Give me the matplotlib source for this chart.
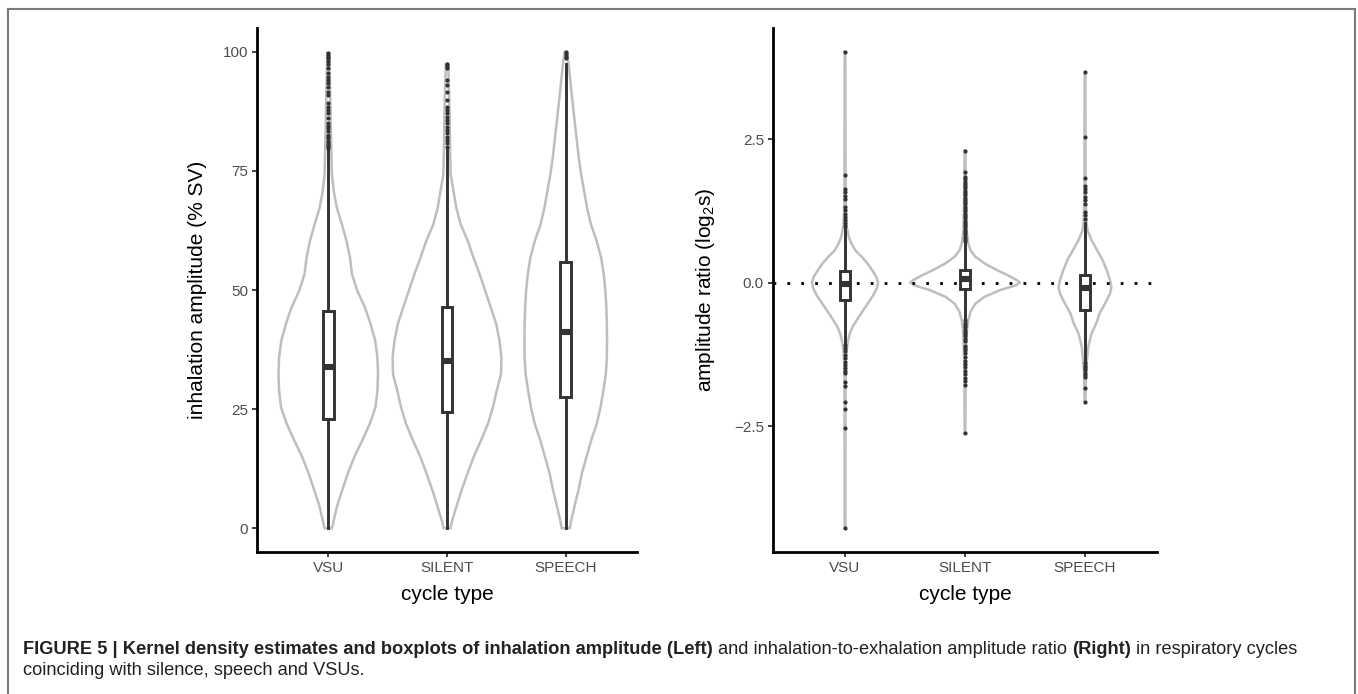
import matplotlib.pyplot as plt
from matplotlib.lines import Line2D
import numpy as np

plt.rcParams['font.family'] = ['Liberation Sans', 'DejaVu Sans']
plt.rcParams['mathtext.fontset'] = 'custom'
plt.rcParams['mathtext.rm'] = 'Liberation Sans'
plt.rcParams['mathtext.default'] = 'regular'

W, H = 1358, 694

categories = ['VSU', 'SILENT', 'SPEECH']

# ---------------- left panel: inhalation amplitude (% SV) ----------------
amp_q1 = [23.0, 24.4, 27.5]
amp_med = [33.9, 35.0, 41.1]
amp_q3 = [45.5, 46.5, 55.9]
amp_whislo = [0.1, 0.1, 0.1]
amp_whishi = [79.4, 79.7, 97.4]
amp_out_vsu = [99.7, 99.3, 99.0, 98.6, 98.0, 97.4, 96.5, 95.5, 94.8, 94.1, 93.4, 92.7,
               91.6, 90.9, 89.2, 88.5, 87.8, 87.1, 86.1, 85.0, 84.5, 84.0, 83.3, 82.6,
               82.2, 81.9, 81.2, 80.9, 80.5, 80.2, 79.8]
amp_out_silent = [97.5, 97.2, 96.9, 96.5, 94.1, 93.0, 91.6, 89.9, 88.5, 87.8, 87.1,
                  86.4, 85.7, 85.0, 84.3, 83.6, 82.9, 82.2, 81.5, 80.8, 80.1]
amp_out_speech = [100.0, 99.7, 99.3, 99.0, 98.6]

# violin outlines: value -> half width (category units)
amp_vio_vsu_y = [0.0, 1.7, 4.5, 8.0, 11.5, 15.0, 18.5, 22.0, 25.4, 28.9, 32.4, 35.9,
                 39.4, 42.9, 46.3, 49.8, 53.3, 56.8, 60.3, 63.8, 67.2, 70.7, 74.2,
                 79.1, 85.0, 92.0, 99.8]
amp_vio_vsu_w = [0.031, 0.047, 0.073, 0.118, 0.165, 0.220, 0.288, 0.351, 0.398, 0.414,
                 0.419, 0.414, 0.395, 0.356, 0.310, 0.245, 0.200, 0.183, 0.154, 0.115,
                 0.073, 0.047, 0.031, 0.026, 0.021, 0.016, 0.008]
amp_vio_silent_y = [0.0, 1.7, 4.5, 8.0, 11.5, 15.0, 18.5, 22.0, 25.4, 28.9, 32.4, 35.9,
                    39.4, 42.9, 46.3, 49.8, 53.3, 56.8, 60.3, 63.8, 67.2, 70.7, 74.2,
                    79.1, 88.2, 97.5]
amp_vio_silent_w = [0.029, 0.045, 0.079, 0.123, 0.173, 0.225, 0.288, 0.346, 0.387,
                    0.419, 0.455, 0.458, 0.442, 0.414, 0.369, 0.322, 0.275, 0.223,
                    0.175, 0.115, 0.079, 0.055, 0.031, 0.026, 0.021, 0.010]
amp_vio_speech_y = [0.0, 1.7, 4.5, 8.0, 11.5, 15.0, 18.5, 22.0, 25.4, 28.9, 32.4, 35.9,
                    39.4, 42.9, 46.3, 49.8, 53.3, 56.8, 60.3, 63.8, 67.2, 70.7, 74.2,
                    77.7, 84.7, 91.6, 97.2, 100.0]
amp_vio_speech_w = [0.034, 0.047, 0.073, 0.107, 0.136, 0.175, 0.215, 0.262, 0.293,
                    0.317, 0.338, 0.346, 0.348, 0.346, 0.342, 0.334, 0.320, 0.298,
                    0.260, 0.212, 0.180, 0.155, 0.130, 0.110, 0.078, 0.048, 0.025, 0.008]

# ---------------- right panel: amplitude ratio (log2 s) ----------------
rat_q1 = [-0.31, -0.12, -0.47]
rat_med = [-0.03, 0.07, -0.09]
rat_q3 = [0.20, 0.21, 0.14]
rat_whislo = [-1.08, -0.62, -1.38]
rat_whishi = [0.95, 0.70, 1.04]
rat_out_vsu = [4.02, 1.88, 1.63, 1.57, 1.51, 1.46, 1.32, 1.26, 1.20, 1.14, 1.09, 1.03, 0.98,
               -1.09, -1.14, -1.20, -1.26, -1.32, -1.38, -1.43, -1.49, -1.55, -1.58,
               -1.73, -1.81, -2.08, -2.20, -2.54, -4.28]
rat_out_silent = [2.30, 1.92, 1.84, 1.80, 1.76, 1.72, 1.68, 1.64, 1.60, 1.56, 1.52, 1.48,
                  1.44, 1.40, 1.36, 1.32, 1.28, 1.24, 1.20, 1.16, 1.12, 1.08, 1.04, 1.00,
                  0.96, 0.92, 0.88, 0.84, 0.80, 0.76, 0.72,
                  -0.66, -0.70, -0.74, -0.78, -0.82, -0.86, -0.90, -0.94, -0.98, -1.02,
                  -1.10, -1.14, -1.18, -1.22, -1.30, -1.36, -1.42, -1.48, -1.54, -1.60,
                  -1.66, -1.72, -1.78, -2.63]
rat_out_speech = [3.66, 2.53, 1.82, 1.69, 1.63, 1.58, 1.49, 1.43, 1.37, 1.23, 1.17, 1.11,
                  -1.41, -1.45, -1.49, -1.53, -1.57, -1.61, -1.64, -1.83, -2.09]

rat_vio_vsu_y = [-4.28, -2.0, -1.40, -1.18, -1.03, -0.89, -0.77, -0.63, -0.48, -0.34,
                 -0.22, -0.10, 0.0, 0.10, 0.21, 0.33, 0.45, 0.56, 0.68, 0.79, 0.91, 0.97,
                 1.30, 2.0, 4.02]
rat_vio_vsu_w = [0.003, 0.004, 0.007, 0.013, 0.024, 0.040, 0.064, 0.105, 0.153, 0.198,
                 0.236, 0.265, 0.276, 0.260, 0.228, 0.188, 0.139, 0.086, 0.054, 0.032,
                 0.021, 0.013, 0.007, 0.004, 0.003]
rat_vio_silent_y = [-2.63, -1.5, -1.12, -0.83, -0.66, -0.51, -0.37, -0.25, -0.13, -0.05,
                    0.0, 0.04, 0.13, 0.21, 0.33, 0.45, 0.56, 0.68, 0.91, 1.40, 2.30]
rat_vio_silent_w = [0.003, 0.005, 0.011, 0.016, 0.027, 0.046, 0.086, 0.161, 0.295, 0.421,
                    0.456, 0.434, 0.354, 0.273, 0.166, 0.086, 0.046, 0.027, 0.013, 0.008,
                    0.003]
rat_vio_speech_y = [-2.09, -1.58, -1.35, -1.12, -0.89, -0.71, -0.54, -0.37, -0.19, -0.08,
                    0.04, 0.21, 0.39, 0.56, 0.74, 0.91, 1.03, 1.50, 3.66]
rat_vio_speech_w = [0.003, 0.008, 0.016, 0.027, 0.054, 0.094, 0.121, 0.166, 0.209, 0.220,
                    0.209, 0.182, 0.147, 0.102, 0.054, 0.021, 0.013, 0.005, 0.003]

caption_line1 = [('FIGURE 5 | Kernel density estimates and boxplots of inhalation amplitude (Left)', 'bold'),
                 ('and inhalation-to-exhalation amplitude ratio', 'normal'),
                 ('(Right)', 'bold'),
                 ('in respiratory cycles', 'normal')]
caption_line2 = [('coinciding with silence, speech and VSUs.', 'normal')]

VIO_COLOR = '#bebebe'
BOX_COLOR = '#333333'


def px_axes(fig, left, top, right, bottom):
    return fig.add_axes([left / W, 1 - bottom / H, (right - left) / W, (bottom - top) / H])


def style_axes(ax):
    for side in ['top', 'right']:
        ax.spines[side].set_visible(False)
    for side in ['left', 'bottom']:
        ax.spines[side].set_linewidth(2.0)
        ax.spines[side].set_color('black')
    ax.tick_params(length=3.5, width=1.3, color='#333333', labelcolor='#4d4d4d',
                   labelsize=11, pad=3)
    ax.set_xticks([1, 2, 3])
    ax.set_xticklabels(categories)
    ax.set_xlim(0.4, 3.6)


def draw_violins(ax, ys, ws):
    for pos, (y, w) in enumerate(zip(ys, ws), start=1):
        y = np.asarray(y)
        w = np.asarray(w)
        xs = np.concatenate([pos - w, (pos + w)[::-1]])
        yy = np.concatenate([y, y[::-1]])
        ax.fill(xs, yy, facecolor='none', edgecolor=VIO_COLOR, linewidth=1.8, zorder=2)


def draw_boxes(ax, q1, med, q3, lo, hi, fliers):
    stats = []
    for i in range(3):
        stats.append(dict(q1=q1[i], med=med[i], q3=q3[i], whislo=lo[i], whishi=hi[i],
                          fliers=fliers[i]))
    ax.bxp(stats, positions=[1, 2, 3], widths=0.09, patch_artist=True, showcaps=False,
           manage_ticks=False, zorder=3,
           boxprops=dict(facecolor='white', edgecolor=BOX_COLOR, linewidth=2.1),
           medianprops=dict(color=BOX_COLOR, linewidth=4.4, solid_capstyle='butt'),
           whiskerprops=dict(color=BOX_COLOR, linewidth=2.1),
           flierprops=dict(marker='o', markersize=3.0, markerfacecolor=BOX_COLOR,
                           markeredgecolor='none', zorder=4))


fig = plt.figure(figsize=(W / 100, H / 100), dpi=100)

# left panel
ax1 = px_axes(fig, 257, 28, 637, 552)
style_axes(ax1)
draw_violins(ax1, [amp_vio_vsu_y, amp_vio_silent_y, amp_vio_speech_y],
             [amp_vio_vsu_w, amp_vio_silent_w, amp_vio_speech_w])
draw_boxes(ax1, amp_q1, amp_med, amp_q3, amp_whislo, amp_whishi,
           [amp_out_vsu, amp_out_silent, amp_out_speech])
ax1.set_ylim(-5, 105)
ax1.set_yticks([0, 25, 50, 75, 100])
ax1.set_yticklabels(['0', '25', '50', '75', '100'])

# right panel
ax2 = px_axes(fig, 773, 28, 1157, 552)
style_axes(ax2)
draw_violins(ax2, [rat_vio_vsu_y, rat_vio_silent_y, rat_vio_speech_y],
             [rat_vio_vsu_w, rat_vio_silent_w, rat_vio_speech_w])
ax2.axhline(0, color='black', linewidth=2.0, linestyle=(0, (1, 4)), zorder=2.5)
draw_boxes(ax2, rat_q1, rat_med, rat_q3, rat_whislo, rat_whishi,
           [rat_out_vsu, rat_out_silent, rat_out_speech])
ax2.set_ylim(-4.695, 4.435)
ax2.set_yticks([-2.5, 0, 2.5])
ax2.set_yticklabels(['\u22122.5', '0.0', '2.5'])

# axis titles
fig.text(197.5 / W, 1 - 290 / H, 'inhalation amplitude (% SV)', rotation=90,
         ha='center', va='center', fontsize=15)
fig.text(705 / W, 1 - 290 / H, 'amplitude ratio (log$_2$s)', rotation=90,
         ha='center', va='center', fontsize=15)
fig.text(447 / W, 1 - 595 / H, 'cycle type', ha='center', va='center', fontsize=15)
fig.text(965 / W, 1 - 595 / H, 'cycle type', ha='center', va='center', fontsize=15)

# frame around the figure panel
frame_kw = dict(color='#7a7a7a', linewidth=1.5, transform=fig.transFigure)
fig.add_artist(Line2D([7.5 / W, 7.5 / W], [0, 1 - 8.5 / H], **frame_kw))
fig.add_artist(Line2D([7.5 / W, 1355 / W], [1 - 8.5 / H, 1 - 8.5 / H], **frame_kw))
fig.add_artist(Line2D([1355 / W, 1355 / W], [0, 1 - 8.5 / H], **frame_kw))

# caption, mixed bold / regular, fitted to the measured line length
renderer = fig.canvas.get_renderer()


def text_width(s, weight, size):
    t = fig.text(0, 0, s, fontsize=size, fontweight=weight)
    w = t.get_window_extent(renderer).width
    t.remove()
    return w


def space_width(weight, size):
    return text_width('a a', weight, size) - text_width('aa', weight, size)


def line_width(pieces, size):
    total = 0
    for i, (s, wt) in enumerate(pieces):
        total += text_width(s, wt, size)
        if i < len(pieces) - 1:
            total += space_width(wt, size)
    return total


base = 11.0
cap_size = base * (1273 / line_width(caption_line1, base))


def draw_caption(pieces, x0, baseline):
    x = x0
    for i, (s, wt) in enumerate(pieces):
        fig.text(x / W, 1 - baseline / H, s, fontsize=cap_size, fontweight=wt,
                 va='baseline', ha='left', color='#222222')
        x += text_width(s, wt, cap_size)
        if i < len(pieces) - 1:
            x += space_width(wt, cap_size)


draw_caption(caption_line1, 22.7, 654)
draw_caption(caption_line2, 22.7, 675)

fig.savefig('out.png', dpi=100)
